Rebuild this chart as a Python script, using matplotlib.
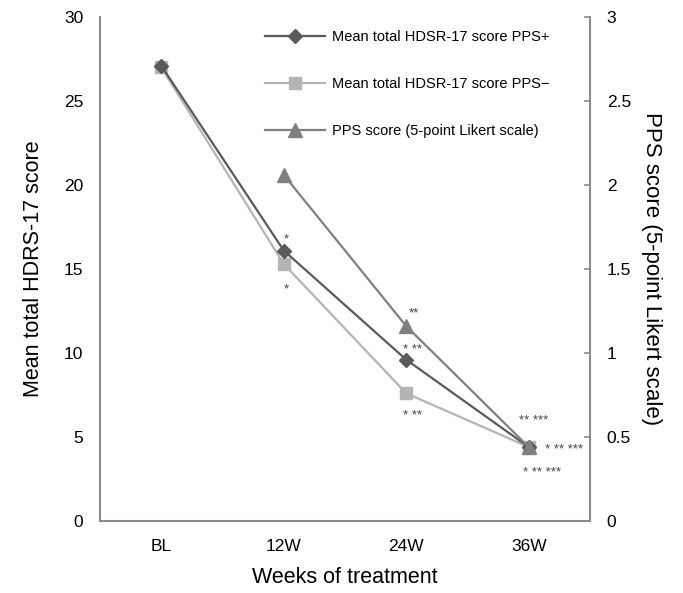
import numpy as np
import matplotlib
matplotlib.use('Agg')
import matplotlib.pyplot as plt

plt.rcParams['font.family'] = ['Liberation Sans', 'DejaVu Sans']

# data
weeks = ['BL', '12W', '24W', '36W']
hdrs_pps_pos = [27.1, 16.1, 9.6, 4.4]
hdrs_pps_neg = [27.0, 15.3, 7.6, 4.4]
pps_score = [np.nan, 2.06, 1.16, 0.44]

legend_labels = ['Mean total HDSR-17 score PPS+',
                 'Mean total HDSR-17 score PPS\u2212',
                 'PPS score (5-point Likert scale)']

# significance marks: (series, week index, text)
sig_marks = [('pos', 1, '*'), ('neg', 1, '*'),
             ('score', 2, '**'), ('pos', 2, '* **'), ('neg', 2, '* **'),
             ('pos', 3, '** ***'), ('pos', 3, '* ** ***'), ('pos', 3, '* ** ***')]
sig_offsets = [(3, 11), (3, -25), (8, 13), (6, 10), (6, -23), (5, 26), (35, -3), (13, -26)]

c_pos = '#5a5a5a'
c_neg = '#b4b4b4'
c_score = '#808080'
c_axis = '#8c8c8c'

fig = plt.figure(figsize=(6.83, 5.93), dpi=100)
ax = fig.add_axes([100 / 683, 1 - 521 / 593, 490 / 683, 504 / 593])
ax2 = ax.twinx()

x = np.arange(len(weeks))
l1, = ax.plot(x, hdrs_pps_pos, color=c_pos, lw=1.6, marker='D', ms=7.5, zorder=3)
l2, = ax.plot(x, hdrs_pps_neg, color=c_neg, lw=1.6, marker='s', ms=8.5, zorder=2)
l3, = ax2.plot(x, pps_score, color=c_score, lw=1.6, marker='^', ms=9.5, zorder=4)

ax.set_xlim(-0.5, 3.5)
ax.set_ylim(0, 30)
ax2.set_ylim(0, 3)
ax.set_xticks(x)
ax.set_xticklabels(weeks)
ax.set_yticks(range(0, 31, 5))
ax2.set_yticks([0, 0.5, 1, 1.5, 2, 2.5, 3])
ax2.set_yticklabels(['0', '0.5', '1', '1.5', '2', '2.5', '3'])

for a in (ax, ax2):
    a.spines['top'].set_visible(False)
    for s in ('left', 'right', 'bottom'):
        a.spines[s].set_color(c_axis)
        a.spines[s].set_linewidth(1.5)
ax.spines['right'].set_visible(False)
ax2.spines['left'].set_visible(False)
ax2.spines['bottom'].set_visible(False)

ax.tick_params(axis='y', length=0, pad=12, labelsize=12.5)
ax.tick_params(axis='x', length=0, pad=13, labelsize=12.5)
ax2.tick_params(axis='y', direction='in', length=4, width=1.2, color=c_axis, pad=12, labelsize=12.5)

ax.set_xlabel('Weeks of treatment', fontsize=15.5, labelpad=9)
ax.set_ylabel('Mean total HDRS-17 score', fontsize=15.5, labelpad=14)
ax2.set_ylabel('PPS score (5-point Likert scale)', fontsize=16, rotation=270,
               va='bottom', labelpad=7)

series = {'pos': (ax, hdrs_pps_pos), 'neg': (ax, hdrs_pps_neg), 'score': (ax2, pps_score)}
for (key, i, txt), off in zip(sig_marks, sig_offsets):
    a, vals = series[key]
    a.annotate(txt, (x[i], vals[i]), xytext=off, textcoords='offset pixels',
               ha='center', va='center', fontsize=9.5, color='#444444')

ax.legend([l1, l2, l3], legend_labels, loc='upper left', bbox_to_anchor=(0.31, 1.0),
          frameon=False, fontsize=10.5, handlelength=4.1, labelspacing=2.25,
          handletextpad=0.5)

fig.savefig('out.png', dpi=100)
